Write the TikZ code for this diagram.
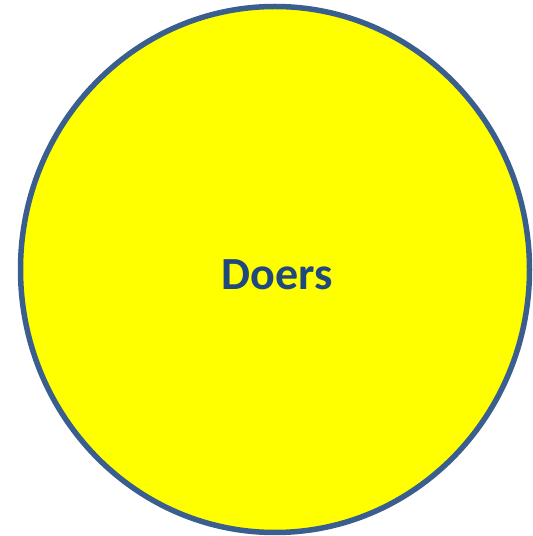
\documentclass[tikz,border=0pt]{standalone}
\usepackage{fontspec}
\setmainfont{Carlito}
\definecolor{rimblue}{HTML}{3A5F8F}
\definecolor{textblue}{HTML}{1F497D}
\definecolor{fillyellow}{HTML}{FFFF00}
\begin{document}
\begin{tikzpicture}[x=1pt,y=1pt]
\useasboundingbox (0,0) rectangle (533,536);
% Cerchio
\draw[line width=5.5pt, draw=rimblue, fill=fillyellow] (275,266.5) ellipse (254.5 and 263);
% Etichetta
\node[anchor=base, text=textblue, font=\fontsize{46}{50}\selectfont\bfseries, inner sep=0pt] (doers) at (277,246) {Doers};
\end{tikzpicture}
\end{document}
